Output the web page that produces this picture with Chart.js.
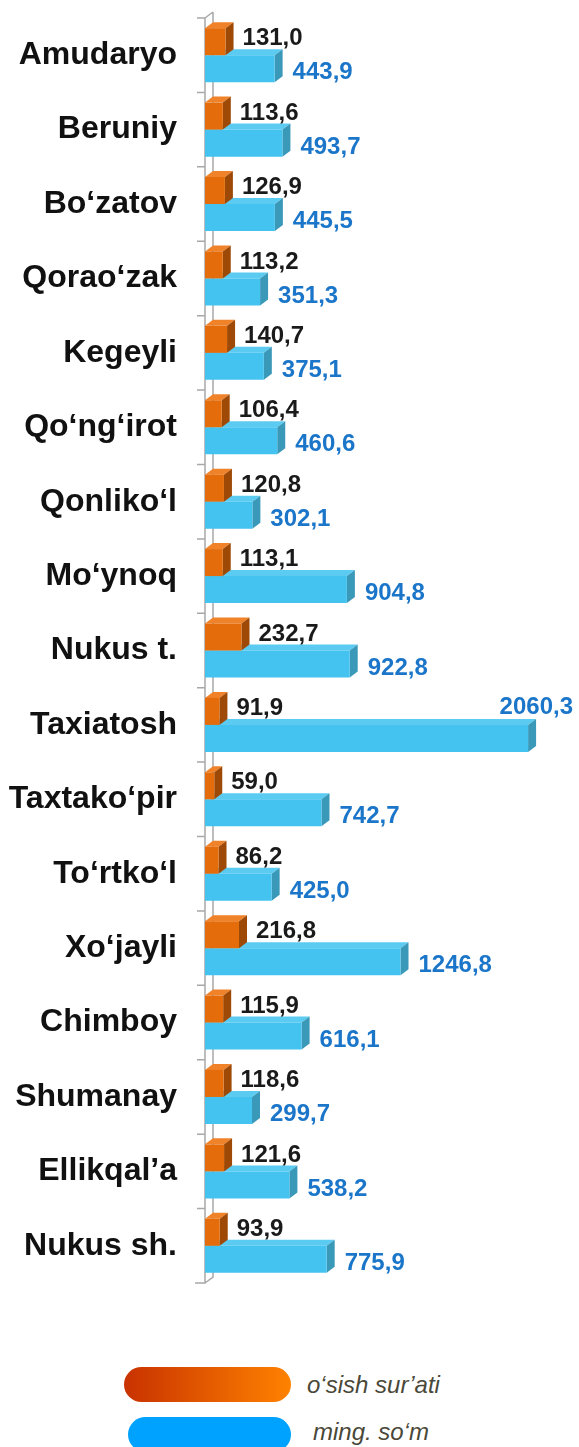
<!DOCTYPE html>
<html>
<head>
<meta charset="utf-8">
<script src="https://cdn.jsdelivr.net/npm/chart.js@4"></script>
<style>
  body { margin: 0; background: #fff; }
  #wrap { position: relative; width: 579px; height: 1447px; overflow: hidden; }
  #box { position: absolute; left: 0; top: 0; width: 579px; height: 1300px; }
  .key { position: absolute; height: 35px; border-radius: 18px; }
  .keyText { position: absolute; font: italic 24px "Liberation Sans", Arial, sans-serif; color: #4a4838; }
</style>
</head>
<body>
<div id="wrap">
  <div id="box"><canvas id="statsChart"></canvas></div>
  <div class="key" style="left:124px;top:1367px;width:167px;background:linear-gradient(to right,#c83200,#ff8200)"></div>
  <div class="keyText" style="left:307px;top:1371px">o‘sish sur’ati</div>
  <div class="key" style="left:128px;top:1417px;width:163px;background:#00a2ff"></div>
  <div class="keyText" style="left:313px;top:1418px">ming. so‘m</div>
</div>
<script>
const labels = ['Amudaryo', 'Beruniy', 'Bo‘zatov', 'Qorao‘zak', 'Kegeyli', 'Qo‘ng‘irot', 'Qonliko‘l', 'Mo‘ynoq', 'Nukus t.', 'Taxiatosh', 'Taxtako‘pir', 'To‘rtko‘l', 'Xo‘jayli', 'Chimboy', 'Shumanay', 'Ellikqal’a', 'Nukus sh.']
const growth = [131.0, 113.6, 126.9, 113.2, 140.7, 106.4, 120.8, 113.1, 232.7, 91.9, 59.0, 86.2, 216.8, 115.9, 118.6, 121.6, 93.9]
const amount = [443.9, 493.7, 445.5, 351.3, 375.1, 460.6, 302.1, 904.8, 922.8, 2060.3, 742.7, 425.0, 1246.8, 616.1, 299.7, 538.2, 775.9]

const DX = 8, DY = 6
const faces = [
    { side: '#9e4a06', top: '#f0822a' },
    { side: '#3a98b8', top: '#5ccbf2' }
]
const valueColors = ['#1a1a1a', '#1b76c9']

function fmt(v)
{
    return v.toFixed(1).replace('.', ',')
}

function poly(ctx, pts, color)
{
    ctx.beginPath()
    ctx.moveTo(pts[0][0], pts[0][1])
    for (const p of pts.slice(1)) ctx.lineTo(p[0], p[1])
    ctx.closePath()
    ctx.fillStyle = color
    ctx.fill()
}

const depthPlugin = {
    id: 'depth',
    beforeDatasetsDraw(chart) {
        const ctx = chart.ctx
        const area = chart.chartArea
        ctx.save()
        // axis wall, behind the bars
        ctx.strokeStyle = '#a8a8a8'
        ctx.lineWidth = 1.5
        const x0 = area.left
        ctx.beginPath()
        ctx.moveTo(x0 + DX, area.top - DY)
        ctx.lineTo(x0, area.top)
        ctx.lineTo(x0, area.bottom)
        ctx.lineTo(x0 - 10, area.bottom)
        ctx.moveTo(x0 + DX, area.top - DY)
        ctx.lineTo(x0 + DX, area.bottom - DY)
        ctx.lineTo(x0, area.bottom)
        const step = (area.bottom - area.top) / labels.length
        for (let i = 0; i < labels.length; i++) {
            const y = area.top + i * step
            ctx.moveTo(x0 - 8, y)
            ctx.lineTo(x0, y)
        }
        ctx.stroke()

        // side + top faces, blue first so the orange front face covers them
        for (const di of [1, 0]) {
            chart.getDatasetMeta(di).data.forEach(bar => {
                const t = bar.y - bar.height / 2, b = bar.y + bar.height / 2
                poly(ctx, [[bar.base, t], [bar.base + DX, t - DY], [bar.x + DX, t - DY], [bar.x, t]], faces[di].top)
                poly(ctx, [[bar.x, t], [bar.x + DX, t - DY], [bar.x + DX, b - DY], [bar.x, b]], faces[di].side)
            })
        }
        ctx.restore()
    },
    afterDatasetsDraw(chart) {
        const ctx = chart.ctx
        ctx.save()
        // value labels
        ctx.font = 'bold 24px "Liberation Sans", Arial, sans-serif'
        ctx.textBaseline = 'middle'
        chart.data.datasets.forEach((ds, di) => {
            chart.getDatasetMeta(di).data.forEach((bar, i) => {
                const txt = fmt(ds.data[i])
                const w = ctx.measureText(txt).width
                ctx.fillStyle = valueColors[di]
                let x = bar.x + (di === 0 ? 17 : 18)
                let y = bar.y + (di === 0 ? -3 : 4)
                ctx.textAlign = 'left'
                if (x + w > chart.width - 4) {
                    ctx.textAlign = 'right'
                    x = chart.width - 6
                    y = bar.y - bar.height / 2 - 18
                }
                ctx.fillText(txt, x, y)
            })
        })
        ctx.restore()
    }
}

const ctx = document.querySelector('#statsChart')

const myChart = new Chart(ctx, {
    type: 'bar',
    data: {
        labels: labels,
        datasets: [{
            label: 'o‘sish sur’ati',
            data: growth,
            backgroundColor: '#e46c0a',
            borderWidth: 0
        }, {
            label: 'ming. so‘m',
            data: amount,
            backgroundColor: '#45c3f0',
            borderWidth: 0
        }]
    },
    options: {
        indexAxis: 'y',
        animation: false,
        responsive: true,
        maintainAspectRatio: false,
        categoryPercentage: 0.726,
        barPercentage: 1,
        layout: { padding: { top: 18, bottom: 17, right: 29, left: 0 } },
        plugins: {
            legend: { display: false },
            tooltip: { enabled: false }
        },
        scales: {
            x: { display: false, min: 0, max: 2200 },
            y: {
                grid: { display: false, drawTicks: false },
                border: { display: false },
                ticks: {
                    color: '#111',
                    padding: 28,
                    font: { family: '"Liberation Sans", Arial, sans-serif', size: 32, weight: 'bold' }
                },
                afterFit(scale) {
                    scale.width = 205
                    scale.paddingTop = 0
                    scale.paddingBottom = 0
                }
            }
        }
    },
    plugins: [depthPlugin]
})
</script>
</body>
</html>
